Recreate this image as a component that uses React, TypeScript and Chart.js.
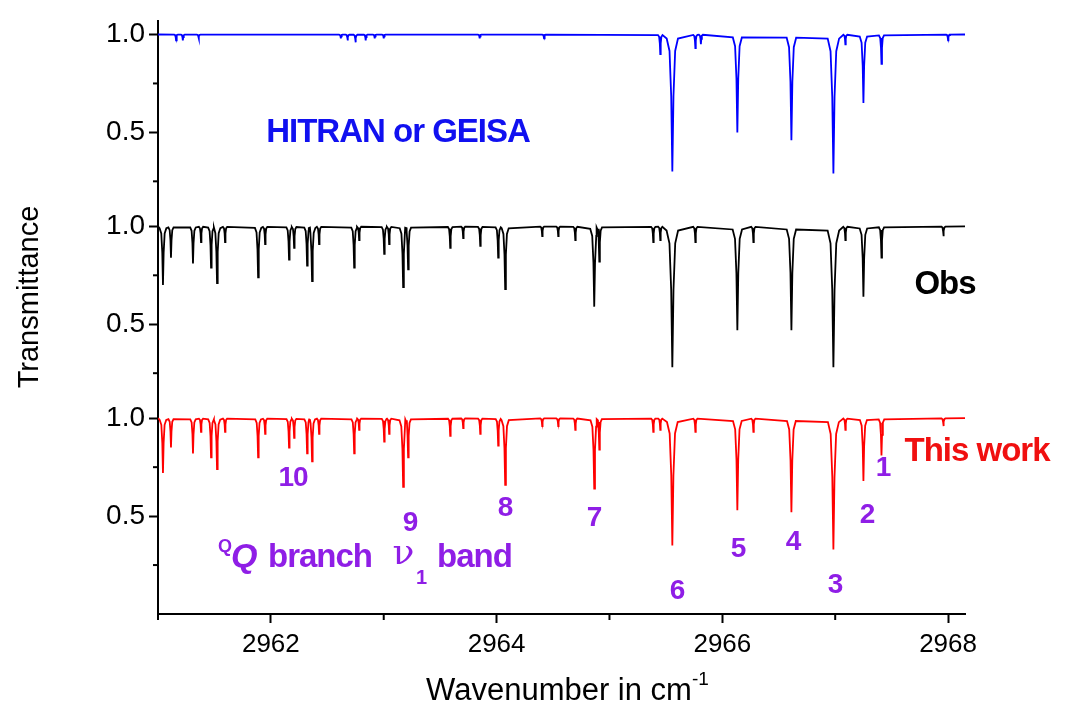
import React, { useEffect, useRef } from "react";
import { Chart, registerables } from "chart.js";
Chart.register(...registerables);

const xMin = 2961.0;
const xMax = 2968.15;
const xTicks = [2962, 2964, 2966, 2968];
const xMinorTicks = [2961, 2963, 2965, 2967];
const yTickValues = [0.5, 1.0, 1.48, 1.98, 2.46, 2.96];
const yTickLabels = ["0.5", "1.0", "0.5", "1.0", "0.5", "1.0"];
const yMinorTicks = [0.25, 0.75, 1.23, 1.73, 2.21, 2.71];
const offsets = [0, 0.98, 1.96];

const lineCenters = [
  2961.044, 2961.115, 2961.31, 2961.381, 2961.47, 2961.523, 2961.594, 2961.887, 2961.949, 2962.161,
  2962.206, 2962.321, 2962.365, 2962.427, 2962.738, 2962.782, 2963.004, 2963.048, 2963.172, 2963.216,
  2963.589, 2963.704, 2963.855, 2964.014, 2964.076, 2964.404, 2964.546, 2964.697, 2964.865, 2964.91,
  2965.388, 2965.45, 2965.557, 2965.761, 2966.133, 2966.275, 2966.612, 2966.984, 2967.09, 2967.25,
  2967.41, 2967.959,
];
const obsMin = [
  0.70, 0.84, 0.81, 0.92, 0.79, 0.71, 0.92, 0.74, 0.91, 0.83,
  0.89, 0.80, 0.72, 0.91, 0.79, 0.93, 0.86, 0.91, 0.69, 0.78,
  0.89, 0.94, 0.90, 0.84, 0.68, 0.95, 0.95, 0.93, 0.59, 0.82,
  0.92, 0.93, 0.28, 0.92, 0.47, 0.92, 0.47, 0.28, 0.93, 0.64,
  0.84, 0.95,
];
const thisWorkMin = [
  0.72, 0.85, 0.82, 0.93, 0.80, 0.74, 0.93, 0.80, 0.92, 0.85,
  0.90, 0.82, 0.78, 0.92, 0.82, 0.94, 0.88, 0.92, 0.65, 0.80,
  0.91, 0.95, 0.92, 0.86, 0.66, 0.96, 0.96, 0.94, 0.64, 0.84,
  0.93, 0.94, 0.35, 0.93, 0.53, 0.93, 0.52, 0.33, 0.94, 0.68,
  0.81, 0.96,
];
const hitranCenters = [
  2961.16, 2961.22, 2961.36, 2962.62, 2962.68, 2962.75, 2962.84, 2962.92, 2963.0, 2963.85,
  2964.42, 2965.45, 2965.557, 2965.761, 2965.81, 2966.133, 2966.612, 2966.984, 2967.09, 2967.25,
  2967.41, 2968.0,
];
const hitranMin = [
  0.97, 0.97, 0.98, 0.98, 0.97, 0.96, 0.97, 0.98, 0.98, 0.98,
  0.98, 0.90, 0.30, 0.93, 0.95, 0.50, 0.46, 0.29, 0.95, 0.65,
  0.85, 0.97,
];

function buildSpectrum(centers: number[], mins: number[], off: number) {
  const pts: { x: number; y: number }[] = [
    { x: xMin, y: 1 + off },
    { x: xMax, y: 1 + off },
  ];
  centers.forEach((c, i) => {
    const d = 1 - mins[i];
    const h = 0.003 + 0.01 * d;
    pts.push({ x: c - 5 * h, y: 1 + off - d * 0.03 });
    pts.push({ x: c - 2.5 * h, y: 1 + off - d * 0.12 });
    pts.push({ x: c - h, y: 1 + off - d * 0.45 });
    pts.push({ x: c, y: 1 + off - d });
    pts.push({ x: c + h, y: 1 + off - d * 0.45 });
    pts.push({ x: c + 2.5 * h, y: 1 + off - d * 0.12 });
    pts.push({ x: c + 5 * h, y: 1 + off - d * 0.03 });
  });
  pts.sort((a, b) => a.x - b.x);
  return pts;
}

const PURPLE = "#8f1ee6";
const FONT = '"Liberation Sans", Arial, sans-serif';

const overlay = {
  id: "overlay",
  afterDraw(chart: any) {
    const ctx = chart.ctx as CanvasRenderingContext2D;
    const xs = chart.scales.x;
    const ys = chart.scales.y;
    ctx.save();
    ctx.strokeStyle = "#000";
    ctx.lineWidth = 2;
    yMinorTicks.forEach((v) => {
      const p = ys.getPixelForValue(v);
      ctx.beginPath();
      ctx.moveTo(xs.left - 5, p);
      ctx.lineTo(xs.left, p);
      ctx.stroke();
    });
    xMinorTicks.forEach((v) => {
      const p = xs.getPixelForValue(v);
      ctx.beginPath();
      ctx.moveTo(p, ys.bottom);
      ctx.lineTo(p, ys.bottom + 6);
      ctx.stroke();
    });
    const txt = (s: string, x: number, y: number, color: string, font: string, align: CanvasTextAlign = "center") => {
      ctx.fillStyle = color;
      ctx.font = font;
      ctx.textAlign = align;
      ctx.textBaseline = "middle";
      (ctx as any).letterSpacing = "-1px";
      ctx.fillText(s, x, y);
    };
    const B = `bold 33px ${FONT}`;
    txt("HITRAN or GEISA", 398, 133, "#1010f0", B);
    txt("Obs", 945, 285, "#000", B);
    txt("This work", 977, 452, "#f01010", B);
    const N = `bold 28px ${FONT}`;
    const nums: [string, number, number][] = [
      ["10", 293, 478], ["9", 410, 523], ["8", 505, 508], ["7", 594, 518], ["6", 677, 591],
      ["5", 738, 549], ["4", 793, 542], ["3", 835, 585], ["2", 867, 515], ["1", 883, 468],
    ];
    nums.forEach(([s, x, y]) => txt(s, x, y, PURPLE, N));
    txt("Q", 218, 547, PURPLE, `bold 18px ${FONT}`, "left");
    txt("Q", 231, 558, PURPLE, `italic bold 34px ${FONT}`, "left");
    txt("branch", 268, 558, PURPLE, B, "left");
    txt("ν", 403, 555, PURPLE, `36px "DejaVu Serif", serif`, "center");
    txt("1", 421, 578, PURPLE, `bold 20px ${FONT}`, "center");
    txt("band", 437, 558, PURPLE, B, "left");
    (ctx as any).letterSpacing = "0px";
    ctx.fillStyle = "#000";
    ctx.textBaseline = "middle";
    ctx.font = `31px ${FONT}`;
    ctx.textAlign = "left";
    const t = "Wavenumber in cm";
    const w = ctx.measureText(t).width;
    const tx = 566 - (w + 14) / 2;
    ctx.fillText(t, tx, 691);
    ctx.font = `19px ${FONT}`;
    ctx.fillText("-1", tx + w, 680);
    ctx.save();
    ctx.translate(30, 297);
    ctx.rotate(-Math.PI / 2);
    ctx.font = `29px ${FONT}`;
    ctx.textAlign = "center";
    ctx.fillText("Transmittance", 0, 0);
    ctx.restore();
    ctx.restore();
  },
};

export default function App() {
  const ref = useRef<HTMLCanvasElement>(null);
  useEffect(() => {
    document.body.style.margin = "0";
    const chart = new Chart(ref.current!, {
      type: "line",
      data: {
        datasets: [
          { data: buildSpectrum(lineCenters, thisWorkMin, offsets[0]), borderColor: "#ff0000" },
          { data: buildSpectrum(lineCenters, obsMin, offsets[1]), borderColor: "#000000" },
          { data: buildSpectrum(hitranCenters, hitranMin, offsets[2]), borderColor: "#0000ff" },
        ].map((d) => ({ ...d, borderWidth: 1.8, pointRadius: 0, tension: 0, fill: false })),
      },
      options: {
        animation: false,
        responsive: false,
        parsing: false as any,
        layout: { padding: { left: 0, right: 110, top: 3, bottom: 0 } },
        plugins: { legend: { display: false }, tooltip: { enabled: false } },
        scales: {
          x: {
            type: "linear",
            min: xMin,
            max: xMax,
            afterFit: (s: any) => { s.height = 97; },
            afterBuildTicks: (s: any) => { s.ticks = xTicks.map((v) => ({ value: v })); },
            ticks: { color: "#000", font: { size: 26, family: FONT }, padding: 6, callback: (v: any) => String(v) },
            grid: { drawOnChartArea: false, tickLength: 9, tickWidth: 2, color: "#000" },
            border: { color: "#000", width: 2 },
          },
          y: {
            type: "linear",
            min: 0,
            max: 3.03,
            afterFit: (s: any) => { s.width = 158; },
            afterBuildTicks: (s: any) => { s.ticks = yTickValues.map((v) => ({ value: v })); },
            ticks: {
              color: "#000",
              font: { size: 28, family: FONT },
              padding: 4,
              callback: (v: any) => yTickLabels[yTickValues.indexOf(v)] ?? "",
            },
            grid: { drawOnChartArea: false, tickLength: 9, tickWidth: 2, color: "#000" },
            border: { color: "#000", width: 2 },
          },
        },
      },
      plugins: [overlay],
    });
    return () => chart.destroy();
  }, []);
  return <canvas ref={ref} width={1075} height={711} style={{ display: "block" }} />;
}
